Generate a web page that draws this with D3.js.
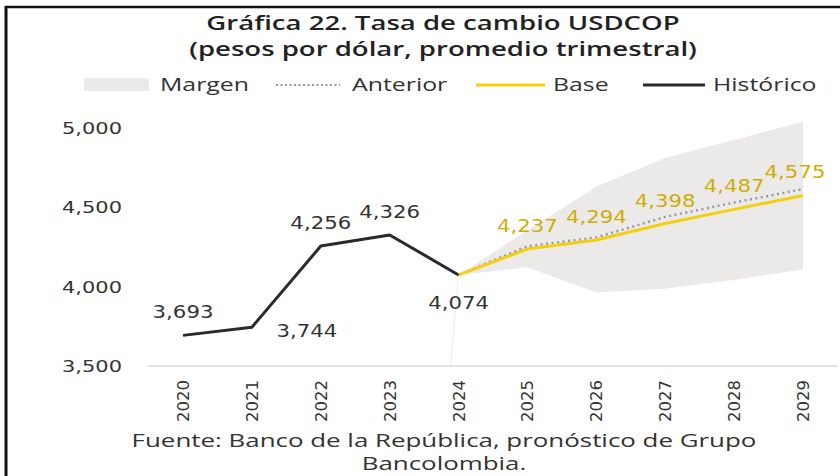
<!DOCTYPE html>
<html>
<head>
<meta charset="utf-8">
<script src="https://cdn.jsdelivr.net/npm/d3@7"></script>
<style>
body{margin:0;background:#fff;}
svg{display:block;}
</style>
</head>
<body>
<div id="chart"></div>
<script>
/*global d3 */

// data
var years = [2020, 2021, 2022, 2023, 2024, 2025, 2026, 2027, 2028, 2029];
var histYears = [2020, 2021, 2022, 2023, 2024];
var historico = [3693, 3744, 4256, 4326, 4074];
var fcYears = [2024, 2025, 2026, 2027, 2028, 2029];
var base = [4074, 4237, 4294, 4398, 4487, 4575];
var anterior = [4074, 4255, 4310, 4440, 4530, 4615];
var margenAlto = [4074, 4354, 4629, 4812, 4924, 5040];
var margenBajo = [4074, 4122, 3964, 3987, 4044, 4108];
var yTicks = [3500, 4000, 4500, 5000];
var titleLines = ["Gráfica 22. Tasa de cambio USDCOP", "(pesos por dólar, promedio trimestral)"];
var sourceLines = ["Fuente: Banco de la República, pronóstico de Grupo", "Bancolombia."];
var legendItems = ["Margen", "Anterior", "Base", "Histórico"];

var W = 840, H = 476;
var SX = 1.25; // the picture is stretched sideways
var numFont = "'DejaVu Sans', Verdana, sans-serif";
var txtFont = "'Open Sans', 'Noto Sans', sans-serif";
var gold = "#cfad06", yellow = "#f5cf0f", dark = "#2a2a2a", band = "#ebeae9";

var svg = d3.select("#chart").append("svg")
    .attr("width", W)
    .attr("height", H);

// frame
svg.append("line").attr("x1", 5).attr("x2", W).attr("y1", 7).attr("y2", 7)
    .attr("stroke", "#111").attr("stroke-width", 2.5);
svg.append("line").attr("x1", 6).attr("x2", 6).attr("y1", 6).attr("y2", H)
    .attr("stroke", "#111").attr("stroke-width", 3);

// stretched text helper
function txt(g, x, y, s, o) {
    o = o || {};
    return g.append("text")
        .attr("transform", "translate(" + x + "," + y + ") scale(" + (o.sx || SX) + ",1)")
        .attr("text-anchor", o.anchor || "middle")
        .attr("font-family", o.font || numFont)
        .attr("font-size", o.size || 16.5)
        .attr("font-weight", o.weight || "normal")
        .attr("fill", o.fill || "#333")
        .text(s);
}

// title
titleLines.forEach(function(t, i){
    txt(svg, 443, 30 + i * 26, t, {font: txtFont, size: 19, weight: 600, fill: "#222", sx: 1.45});
});

var x = d3.scalePoint().domain(years).range([183, 803]);
var y = d3.scaleLinear().domain([3500, 5000]).range([366, 128]);

var fmt = d3.format(",");

// margin band
var bandData = fcYears.map(function(yr, i){ return {yr: yr, lo: margenBajo[i], hi: margenAlto[i]}; });
svg.append("path")
    .datum(bandData)
    .attr("fill", band)
    .attr("d", d3.area()
        .x(function(d){ return x(d.yr); })
        .y0(function(d){ return y(d.lo); })
        .y1(function(d){ return y(d.hi); }));

// baseline + faint separator
svg.append("line").attr("x1", 148).attr("x2", 837).attr("y1", y(3500)).attr("y2", y(3500))
    .attr("stroke", "#e3e3e3").attr("stroke-width", 2);
svg.append("line").attr("x1", x(2024)).attr("x2", x(2024) - 8)
    .attr("y1", y(historico[4])).attr("y2", y(3500))
    .attr("stroke", "#ececec").attr("stroke-width", 1);

// y ticks
var yAxis = svg.append("g");
yTicks.forEach(function(t){
    txt(yAxis, 122, y(t) + 6, fmt(t), {anchor: "end", size: 16.5, sx: 1.27});
});

// year labels (rotated)
years.forEach(function(yr){
    svg.append("text")
        .attr("transform", "translate(" + (x(yr) + 6) + ",380) rotate(-90)")
        .attr("text-anchor", "end")
        .attr("font-family", numFont)
        .attr("font-size", 16.5)
        .attr("fill", "#333")
        .text(yr);
});

var line = d3.line()
    .x(function(d){ return x(d[0]); })
    .y(function(d){ return y(d[1]); });

// anterior (dotted)
svg.append("path")
    .datum(d3.zip(fcYears, anterior))
    .attr("fill", "none").attr("stroke", "#9a9a9a")
    .attr("stroke-width", 2.5).attr("stroke-dasharray", "2,3.5")
    .attr("d", line);

// base
svg.append("path")
    .datum(d3.zip(fcYears, base))
    .attr("fill", "none").attr("stroke", yellow)
    .attr("stroke-width", 3)
    .attr("d", line);

// historico
svg.append("path")
    .datum(d3.zip(histYears, historico))
    .attr("fill", "none").attr("stroke", dark)
    .attr("stroke-width", 3)
    .attr("stroke-linejoin", "round")
    .attr("d", line);

// value labels
histYears.forEach(function(yr, i){
    var px = x(yr), py = y(historico[i]);
    if (i === 1) { px += 55; py += 10; }        // below right
    else if (i === 4) { py += 34; }             // below
    else { py -= 17; }                          // above
    txt(svg, px, py, fmt(historico[i]), {size: 17});
});
fcYears.forEach(function(yr, i){
    if (i === 0) return;
    var px = Math.min(x(yr), 795);
    txt(svg, px, y(base[i]) - 17, fmt(base[i]), {fill: gold, size: 17});
});

// legend
var lg = svg.append("g");
var lgOpt = {anchor: "start", font: txtFont, size: 17.5, sx: 1.42};
lg.append("rect").attr("x", 84).attr("y", 78).attr("width", 65).attr("height", 13).attr("fill", band);
txt(lg, 160, 91, legendItems[0], lgOpt);
lg.append("line").attr("x1", 276).attr("x2", 340).attr("y1", 85).attr("y2", 85)
    .attr("stroke", "#9a9a9a").attr("stroke-width", 2).attr("stroke-dasharray", "2,2.5");
txt(lg, 352, 91, legendItems[1], lgOpt);
lg.append("line").attr("x1", 476).attr("x2", 545).attr("y1", 85).attr("y2", 85)
    .attr("stroke", yellow).attr("stroke-width", 3);
txt(lg, 553, 91, legendItems[2], lgOpt);
lg.append("line").attr("x1", 643).attr("x2", 705).attr("y1", 85).attr("y2", 85)
    .attr("stroke", dark).attr("stroke-width", 3);
txt(lg, 713, 91, legendItems[3], lgOpt);

// source
sourceLines.forEach(function(t, i){
    txt(svg, 444, 447 + i * 23, t, {font: txtFont, size: 17.5, sx: 1.48});
});
</script>
</body>
</html>
